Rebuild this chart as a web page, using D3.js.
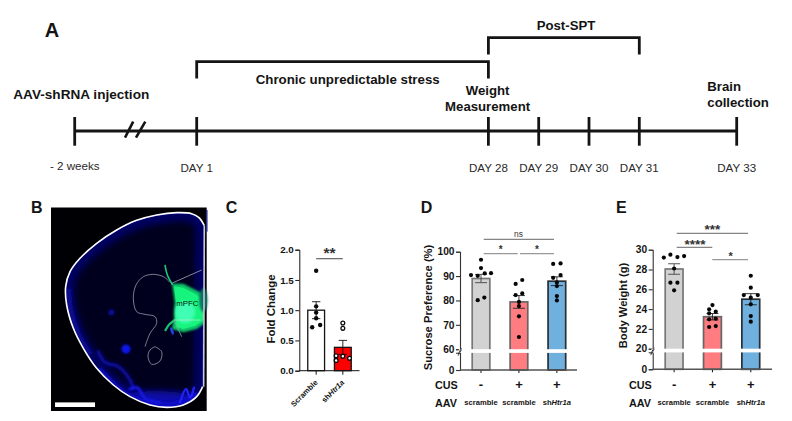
<!DOCTYPE html>
<html>
<head>
<meta charset="utf-8">
<script src="https://cdn.jsdelivr.net/npm/d3@7/dist/d3.min.js"></script>
<style>
html,body{margin:0;padding:0;background:#fff}
svg{display:block}
text{font-family:"Liberation Sans",Arial,sans-serif;fill:#141414}
</style>
</head>
<body>
<svg id="chart" width="792" height="421"></svg>
<script>
// ---------- DATA ----------
const timelineStops = ["- 2 weeks","DAY 1","DAY 28","DAY 29","DAY 30","DAY 31","DAY 33"];

const foldGroups = ["Scramble","shHtr1a"];
const foldMeans = [1.0,0.386];
const foldSems = [0.14,0.115];
const foldScramble = [1.653,1.064,0.96,0.866,0.755,0.717];
const foldShHtr1a = [0.788,0.70,0.248,0.237,0.17,0.205];
const foldTicks = [0,0.5,1,1.5,2];

const groupCus = ["-","+","+"];
const groupAav = ["scramble","scramble","shHtr1a"];

const sucroseMeans = [89,79.4,87.9];
const sucroseSems = [1.7,2.6,1.8];
const sucroseScrambleCtl = [96.7,93.3,90.4,90.1,91.1,91.2,80.1,81.2];
const sucroseScrambleCus = [88.4,86.8,82.9,82.2,79.4,77.7,73.5,65];
const sucroseShHtr1aCus = [95,95.2,90.4,89.3,87.4,85.9,81.8,80];
const sucroseTicks = [0,60,70,80,90,100];

const weightMeans = [28.05,23.23,25];
const weightSems = [0.53,0.32,0.56];
const weightScrambleCtl = [29.2,29.5,29.26,29.36,28.1,26.67,26.67,25.9];
const weightScrambleCus = [24.41,23.98,23.57,23.74,22.97,23.03,22.19,22.29];
const weightShHtr1aCus = [27.37,26.16,25.42,25.15,25.42,24.48,23.3,22.73];
const weightTicks = [0,20,22,24,26,28,30];

// ---------- LAYOUT ----------
const svg = d3.select("#chart");
const ink = "#141414";

function label(g,x,y,txt,size,opts={}){
  const t = g.append("text").attr("x",x).attr("y",y)
    .attr("font-size",size)
    .attr("font-weight",opts.weight||"bold")
    .attr("text-anchor",opts.anchor||"start")
    .text(txt);
  if(opts.fill) t.style("fill",opts.fill);
  if(opts.rotate!==undefined) t.attr("transform",`rotate(${opts.rotate} ${x} ${y})`);
  return t;
}
function italicLabel(g,x,y,size,opts={}){
  const t = g.append("text").attr("x",x).attr("y",y)
    .attr("font-size",size).attr("font-weight","bold")
    .attr("text-anchor",opts.anchor||"middle");
  t.append("tspan").text("sh");
  t.append("tspan").attr("font-style","italic").text("Htr1a");
  if(opts.rotate!==undefined) t.attr("transform",`rotate(${opts.rotate} ${x} ${y})`);
  return t;
}

// Panel letters
[["A",44.7,37.3,20],["B",31,212.7,16],["C",225.7,212.7,16],["D",420.7,212.7,16],["E",616,212.7,16]]
  .forEach(d=>label(svg,d[1],d[2],d[0],d[3]));

// ---------- PANEL A: timeline ----------
const tl = svg.append("g");
const tlX = d3.scaleOrdinal(timelineStops,[74.7,196.7,488.4,538.7,589,639.3,736.7]);
const tlY = 131;
function thick(x1,y1,x2,y2,w=3){
  tl.append("line").attr("x1",x1).attr("y1",y1).attr("x2",x2).attr("y2",y2)
    .attr("stroke",ink).attr("stroke-width",w);
}
thick(tlX(timelineStops[0]),tlY,tlX(timelineStops[6]),tlY,2.8);
timelineStops.forEach(s=>{
  thick(tlX(s),117,tlX(s),145.7,2.8);
  const isWeeks = s==="- 2 weeks";
  label(tl,tlX(s),isWeeks?170:171.7,s,11.6,{weight:"normal",anchor:"middle",fill:"#2a2a2a"});
});
thick(125,137.7,133.2,121.7,2.6);
thick(136,137.7,145.3,121.7,2.6);
const bracket = (a,b,top,bottom)=>tl.append("path")
  .attr("d",`M${tlX(a)},${bottom}V${top}H${tlX(b)}V${bottom}`)
  .attr("fill","none").attr("stroke",ink).attr("stroke-width",2.8);
bracket("DAY 1","DAY 28",61.7,78.5);
bracket("DAY 28","DAY 31",37.7,54.5);
label(tl,13.3,99,"AAV-shRNA injection",13.6);
label(tl,255.7,84,"Chronic unpredictable stress",13.3);
label(tl,536.7,30,"Post-SPT",13.2);
label(tl,487.6,95,"Weight",13.2,{anchor:"middle"});
label(tl,487.6,111,"Measurement",13.2,{anchor:"middle"});
label(tl,707.3,90.7,"Brain",13.2);
label(tl,707.3,106.7,"collection",13.2);

// ---------- PANEL B: section image ----------
const defs = svg.append("defs");
[["b05",0.45],["b1",0.8],["b2",1.5],["b3",3],["b4",5]].forEach(([id,s])=>{
  defs.append("filter").attr("id",id).attr("x","-50%").attr("y","-50%").attr("width","200%").attr("height","200%")
    .append("feGaussianBlur").attr("stdDeviation",s);
});
const bx = d3.scaleLinear([0,480],[50,210]);
const by = d3.scaleLinear([0,630],[205,415]);
const toPts = a=>a.map(p=>[bx(p[0]),by(p[1])]);
const smooth = d3.line().curve(d3.curveCatmullRom.alpha(0.5));
const outlineZ = [[463,62],[447,38],[425,26],[380,23],[320,30],[260,46],[200,75],[140,115],[90,160],[60,200],[47,245],[50,300],[70,370],[100,430],[140,490],[190,540],[240,575],[300,600],[350,607],[400,600],[440,575],[458,545]];
const outlineD = smooth(toPts(outlineZ))+`L${bx(462)},${by(300)}L${bx(463)},${by(62)}`;
defs.append("clipPath").attr("id","brainClip").append("path").attr("d",outlineD);
const b = svg.append("g");
b.append("rect").attr("x",51).attr("y",207.5).attr("width",155.7).attr("height",203.5).attr("fill","#000004");
b.append("path").attr("d",outlineD).attr("fill","#00001e");
const inner = b.append("g").attr("clip-path","url(#brainClip)");
// soft blue rim
inner.append("path").attr("d",outlineD).attr("fill","none").attr("stroke","#050560").attr("stroke-width",18).attr("filter","url(#b3)");
inner.append("path").attr("d",smooth(toPts([[55,250],[60,310],[85,390],[120,450]]))).attr("fill","none").attr("stroke","#0a0a90").attr("stroke-width",6).attr("filter","url(#b2)");
inner.append("path").attr("d",outlineD).attr("fill","none").attr("stroke","#0e0e98").attr("stroke-width",2.2).attr("filter","url(#b05)");
// broad base glow and brighter folds
inner.append("ellipse").attr("cx",bx(320)).attr("cy",by(590)).attr("rx",44).attr("ry",11).attr("fill","#0808a8").attr("filter","url(#b3)");
[
 {p:[[145,440],[165,472],[205,485],[240,525],[250,550]],w:3.4,c:"#0c0cb0",f:"b2"},
 {p:[[150,500],[230,572],[300,598],[370,600],[435,572]],w:7,c:"#1010c8",f:"b2"},
 {p:[[240,552],[262,548],[285,580],[330,592]],w:3.2,c:"#1818e0",f:"b1"},
 {p:[[390,592],[408,552],[420,578],[432,548]],w:2.4,c:"#2020f0",f:"b05"}
].forEach(o=>inner.append("path").attr("d",smooth(toPts(o.p))).attr("fill","none")
   .attr("stroke",o.c).attr("stroke-width",o.w).attr("stroke-linecap","round").attr("filter",`url(#${o.f})`));
b.append("circle").attr("cx",bx(228)).attr("cy",by(432)).attr("r",4.6).attr("fill","#0d12e6").attr("filter","url(#b1)");
b.append("circle").attr("cx",bx(184)).attr("cy",by(322)).attr("r",3.2).attr("fill","#08088c").attr("filter","url(#b1)");
// green injection site
const greenLine = d3.line().curve(d3.curveLinearClosed);
b.append("ellipse").attr("cx",bx(460)).attr("cy",by(285)).attr("rx",4).attr("ry",12).attr("fill","#0a7060").attr("filter","url(#b1)");
inner.append("path").attr("d",greenLine(toPts([[366,236],[400,236],[450,262],[470,275],[470,350],[440,372],[400,382],[366,372],[372,340],[374,290]])))
  .attr("fill","#10c868").attr("filter","url(#b1)");
inner.append("path").attr("d",greenLine(toPts([[372,244],[400,248],[438,268],[462,288],[462,345],[435,362],[400,372],[380,366],[376,340],[378,295]])))
  .attr("fill","#16f47e").attr("filter","url(#b05)");
inner.append("ellipse").attr("cx",bx(405)).attr("cy",by(322)).attr("rx",10).attr("ry",11).attr("fill","#40ffb4").attr("filter","url(#b2)");
inner.append("path").attr("d",smooth(toPts([[345,180],[352,210],[368,240]]))).attr("fill","none").attr("stroke","#16c878").attr("stroke-width",1.6).attr("filter","url(#b05)");
inner.append("path").attr("d",smooth(toPts([[375,345],[358,358],[345,378]]))).attr("fill","none").attr("stroke","#18c070").attr("stroke-width",2.2).attr("filter","url(#b05)");
inner.append("ellipse").attr("cx",bx(366)).attr("cy",by(378)).attr("rx",1.3).attr("ry",4).attr("fill","#2a40f0").attr("transform",`rotate(-18 ${bx(366)} ${by(378)})`);
// thin tracing lines
const thin = (pts,c="#9a9aa8",w=0.8)=>b.append("path").attr("d",smooth(toPts(pts))).attr("fill","none").attr("stroke",c).attr("stroke-width",w);
thin([[360,232],[340,215],[310,208],[280,215],[258,240],[250,280],[260,320],[285,328],[315,335],[320,355],[300,385],[285,425]]);
thin([[315,425],[335,440],[330,468],[305,478],[294,455],[300,435],[315,425]]);
thin([[365,235],[455,195]],"#a8a8b4");
thin([[372,345],[450,345]],"#a8e8c8");
thin([[372,345],[395,395]],"#8ab0b0");
// outline
b.append("path").attr("d",smooth(toPts(outlineZ))).attr("fill","none").attr("stroke","#fff").attr("stroke-width",1.6);
b.append("line").attr("x1",bx(463)).attr("y1",by(62)).attr("x2",bx(461)).attr("y2",by(545)).attr("stroke","#c8c8d8").attr("stroke-width",1.6);
b.append("line").attr("x1",bx(471)).attr("y1",by(15)).attr("x2",bx(471)).attr("y2",by(80)).attr("stroke","#0c18a0").attr("stroke-width",1);
b.append("rect").attr("x",55).attr("y",402.4).attr("width",40).attr("height",4.6).attr("fill","#fff");
label(b,bx(412),by(302),"mPFC",7.8,{weight:"normal",anchor:"middle",fill:"#04140c"});

// ---------- BAR PANEL HELPERS ----------
function errBar(g,cx,yf,m,s,halfCap,color){
  const p = d3.path();
  p.moveTo(cx,yf(m+s)); p.lineTo(cx,yf(m-s));
  p.moveTo(cx-halfCap,yf(m+s)); p.lineTo(cx+halfCap,yf(m+s));
  p.moveTo(cx-halfCap,yf(m-s)); p.lineTo(cx+halfCap,yf(m-s));
  g.append("path").attr("d",p.toString()).attr("fill","none").attr("stroke",color).attr("stroke-width",0.9);
}
function styleAxis(ag,color,w,fs){
  ag.selectAll("path,line").attr("stroke",color).attr("stroke-width",w);
  ag.selectAll("text").attr("font-size",fs).attr("font-weight","bold").attr("font-family",'"Liberation Sans",Arial,sans-serif').style("fill","#141414");
}
function sig(g,x1,x2,y,txt,tx,ty,color,w,fs,weight){
  g.append("line").attr("x1",x1).attr("x2",x2).attr("y1",y).attr("y2",y).attr("stroke",color).attr("stroke-width",w);
  label(g,tx,ty,txt,fs,{anchor:"middle",weight:weight||"bold",fill:"#333"});
}

// ---------- PANEL C ----------
(function(){
  const g = svg.append("g");
  const y = d3.scaleLinear([0,2],[370.7,249.7]);
  const x = d3.scaleBand(foldGroups,[303.5,355.5]).paddingInner(0.37).paddingOuter(0.16);
  const offs = [[0,0,0,0,4,-4],[0,0,-6.7,0,-6.7,6.7]];
  const series = [foldScramble,foldShHtr1a];
  foldGroups.forEach((name,i)=>{
    const cx = x(name)+x.bandwidth()/2;
    g.append("rect").attr("x",x(name)).attr("y",y(foldMeans[i])).attr("width",x.bandwidth()).attr("height",y(0)-y(foldMeans[i]))
      .attr("fill",i?"#ff0000":"#fff").attr("stroke",ink).attr("stroke-width",1.3);
    errBar(g,cx,y,foldMeans[i],foldSems[i],4.2,ink);
    series[i].forEach((v,k)=>{
      g.append("circle").attr("cx",cx+offs[i][k]).attr("cy",y(v)).attr("r",i?1.9:2.2)
        .attr("fill",i?"#fff":"#0a0a0a").attr("stroke",i?"#0a0a0a":"none").attr("stroke-width",i?1.3:0);
    });
    g.append("line").attr("x1",cx).attr("x2",cx).attr("y1",y(0)).attr("y2",y(0)+4).attr("stroke",ink).attr("stroke-width",1);
  });
  const ax = g.append("g").attr("transform","translate(299.3,0)")
    .call(d3.axisLeft(y).tickValues(foldTicks).tickFormat(d3.format(".1f")).tickSize(4).tickPadding(1.5));
  styleAxis(ax,ink,1,9.8);
  g.append("line").attr("x1",299.3).attr("x2",359.5).attr("y1",y(0)).attr("y2",y(0)).attr("stroke",ink).attr("stroke-width",1);
  label(g,275,309,"Fold Change",11.4,{anchor:"middle",rotate:-90});
  const lx = x(foldGroups[0])+x.bandwidth()/2, lx2 = x(foldGroups[1])+x.bandwidth()/2;
  label(g,lx+2,383,foldGroups[0],7.6,{anchor:"end",rotate:-45});
  italicLabel(g,lx2+2,383,7.6,{anchor:"end",rotate:-45});
  sig(g,lx,lx2,258.7,"**",329.5,258,"#555",1.1,15.5);
})();

// ---------- PANELS D, E (broken axis) ----------
function brokenPanel(cfg){
  const g = svg.append("g");
  const upper = d3.scaleLinear([cfg.breakVal,cfg.topVal],[cfg.breakY,cfg.topY]);
  const lower = d3.scaleLinear([0,cfg.breakVal],[cfg.zeroY,cfg.breakY+3.6]);
  const y = v=> v>=cfg.breakVal ? upper(v) : lower(v);
  const x = d3.scaleBand([0,1,2],[cfg.x0,cfg.x1]).paddingInner(cfg.pad).paddingOuter(0);
  const cols = [["#d2d2d2","#777"],["#ff7c80","#666"],["#6fb0de","#2a2f36"]];
  cfg.means.forEach((m,i)=>{
    const bx0 = x(i), cx = bx0+x.bandwidth()/2;
    g.append("rect").attr("x",bx0).attr("y",y(m)).attr("width",x.bandwidth()).attr("height",y(0)-y(m))
      .attr("fill",cols[i][0]).attr("stroke",cols[i][1]).attr("stroke-width",1.7);
    errBar(g,cx,y,m,cfg.sems[i],6,i===0?"#444":"#222");
    cfg.series[i].forEach((v,k)=>{
      g.append("circle").attr("cx",cx+cfg.offs[i][k]).attr("cy",y(v)).attr("r",2.1).attr("fill","#060606");
    });
    g.append("line").attr("x1",cx).attr("x2",cx).attr("y1",y(0)).attr("y2",y(0)+3).attr("stroke",ink).attr("stroke-width",1);
    label(g,cx,cfg.cusY,groupCus[i],13,{anchor:"middle"});
    if(groupAav[i]==="scramble") label(g,cx,cfg.aavY,groupAav[i],7.6,{anchor:"middle"});
    else italicLabel(g,cx,cfg.aavY,7.6);
  });
  const axU = g.append("g").attr("transform",`translate(${cfg.axisX},0)`)
    .call(d3.axisLeft(upper).tickValues(cfg.ticks.filter(t=>t>=cfg.breakVal)).tickSize(4).tickPadding(1.5));
  styleAxis(axU,"#333",1.1,10.2);
  const axL = g.append("g").attr("transform",`translate(${cfg.axisX},0)`)
    .call(d3.axisLeft(lower).tickValues([0]).tickSize(4).tickPadding(1.5));
  styleAxis(axL,"#333",1.1,10.2);
  g.append("line").attr("x1",cfg.axisX).attr("x2",cfg.axisEnd).attr("y1",y(0)).attr("y2",y(0)).attr("stroke","#555").attr("stroke-width",1.4);
  g.append("rect").attr("x",cfg.axisX-1.2).attr("y",cfg.breakY).attr("width",x(2)+x.bandwidth()-cfg.axisX+3).attr("height",3.7).attr("fill","#fff");
  g.append("line").attr("x1",cfg.axisX-2).attr("x2",cfg.axisX+1.5).attr("y1",cfg.breakY+5).attr("y2",cfg.breakY-1).attr("stroke","#333").attr("stroke-width",0.9);
  g.append("line").attr("x1",cfg.axisX-2).attr("x2",cfg.axisX+1.5).attr("y1",cfg.breakY+6.5).attr("y2",cfg.breakY+0.5).attr("stroke","#333").attr("stroke-width",0.9);
  label(g,cfg.yLabelX,cfg.yLabelY,cfg.yLabel,11.2,{anchor:"middle",rotate:-90});
  label(g,cfg.rowX,cfg.cusY,"CUS",10.8);
  label(g,cfg.rowX,cfg.aavY+2,"AAV",10.8);
  return {g,cx:i=>x(i)+x.bandwidth()/2};
}

const D = brokenPanel({
  means:sucroseMeans,sems:sucroseSems,series:[sucroseScrambleCtl,sucroseScrambleCus,sucroseShHtr1aCus],
  offs:[[0,0,-10,-3.3,3.7,10,-3.3,3.3],[3.3,-3.3,3.3,-3.3,0,0,0,0],[-3.7,3.7,3.7,-3.7,0,0,0,0]],
  ticks:sucroseTicks,breakVal:60,topVal:100,breakY:349.2,topY:251.7,zeroY:370,
  x0:472.2,x1:565.7,pad:0.535,axisX:460,axisEnd:577,cusY:389,aavY:404.8,
  yLabel:"Sucrose Preference (%)",yLabelX:431.5,yLabelY:307.5,rowX:435
});
sig(D.g,483.7,554,239.3,"ns",518.5,236.5,"#666",1,8.4,"normal");
sig(D.g,483.7,517.7,253.7,"*",500.8,253,"#999",1.3,10);
sig(D.g,520,554,253.7,"*",537,253,"#999",1.3,10);

const E = brokenPanel({
  means:weightMeans,sems:weightSems,series:[weightScrambleCtl,weightScrambleCus,weightShHtr1aCus],
  offs:[[-10.3,-3.7,3.3,10,0,-3.7,3.3,0],[0,-3.3,-3.3,3.3,-3.3,3.3,-3.3,3.3],[0,0,-7,0,7,0,0,0]],
  ticks:weightTicks,breakVal:20,topVal:30,breakY:348.7,topY:249.7,zeroY:369.3,
  x0:665.2,x1:759.7,pad:0.535,axisX:652.7,axisEnd:772,cusY:389,aavY:404.8,
  yLabel:"Body Weight (g)",yLabelX:626.5,yLabelY:305.5,rowX:629
});
sig(E.g,676.7,748,233.3,"***",712.5,234.3,"#666",1,13.5);
sig(E.g,676.7,712.3,247.3,"****",695,248.7,"#666",1,13.5);
sig(E.g,712.3,748,259.7,"*",730.7,260,"#999",1.3,11);
</script>
</body>
</html>
